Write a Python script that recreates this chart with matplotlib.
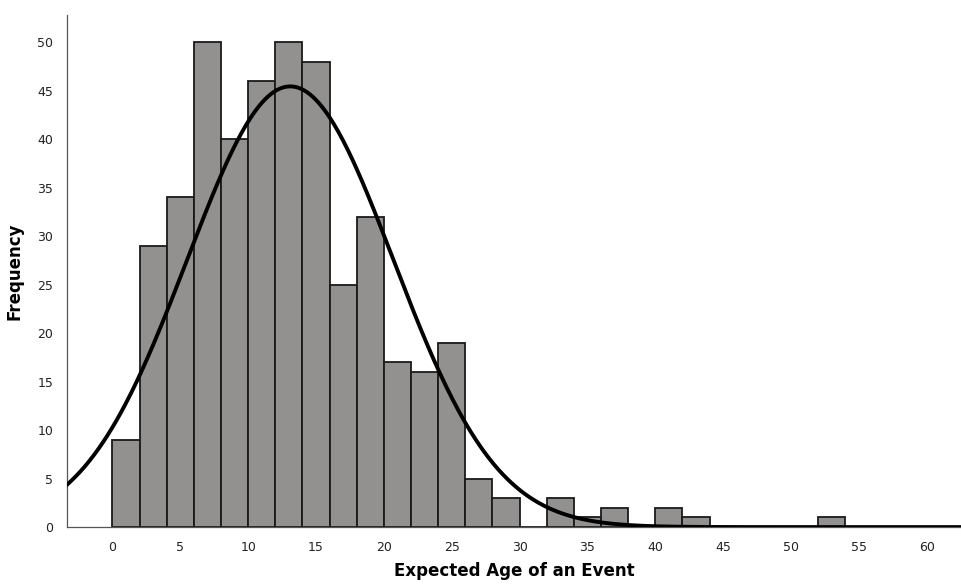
import numpy as np
import matplotlib.pyplot as plt

# histogram bins (width 2) and counts
bin_edges = list(range(0, 56, 2))
counts = [9, 29, 34, 50, 40, 46, 50, 48, 25, 32, 17, 16, 19, 5, 3,
          0, 3, 1, 2, 0, 2, 1, 0, 0, 0, 0, 1]

# normal curve parameters
n_total = 433
mean_age = 13.1
sd_age = 7.6
bin_width = 2

x_ticks = list(range(0, 61, 5))
y_ticks = list(range(0, 51, 5))

fig = plt.figure(figsize=(9.61, 5.85), dpi=100)
ax = fig.add_axes([0.0697, 0.099, 0.93, 0.875])

lefts = bin_edges[:-1]
ax.bar(lefts, counts, width=bin_width, align='edge', color='#939090',
       edgecolor='#1a1a1a', linewidth=1.3, zorder=2)

xs = np.linspace(-3.35, 62.5, 600)
ys = n_total * bin_width / (sd_age * np.sqrt(2 * np.pi)) * np.exp(-(xs - mean_age) ** 2 / (2 * sd_age ** 2))
ax.plot(xs, ys, color='black', linewidth=2.8, zorder=3)

ax.set_xlim(-3.35, 62.5)
ax.set_ylim(0, 52.8)
ax.set_xticks(x_ticks)
ax.set_yticks(y_ticks)
ax.tick_params(length=0, labelsize=9, colors='#222222', pad=10)
for side in ['top', 'right']:
    ax.spines[side].set_visible(False)
for side in ['left', 'bottom']:
    ax.spines[side].set_color('#555555')
    ax.spines[side].set_linewidth(0.9)

ax.set_xlabel('Expected Age of an Event', fontsize=12, fontweight='bold', labelpad=6)
ax.set_ylabel('Frequency', fontsize=12, fontweight='bold', labelpad=10)

fig.savefig('out.png', dpi=100)
